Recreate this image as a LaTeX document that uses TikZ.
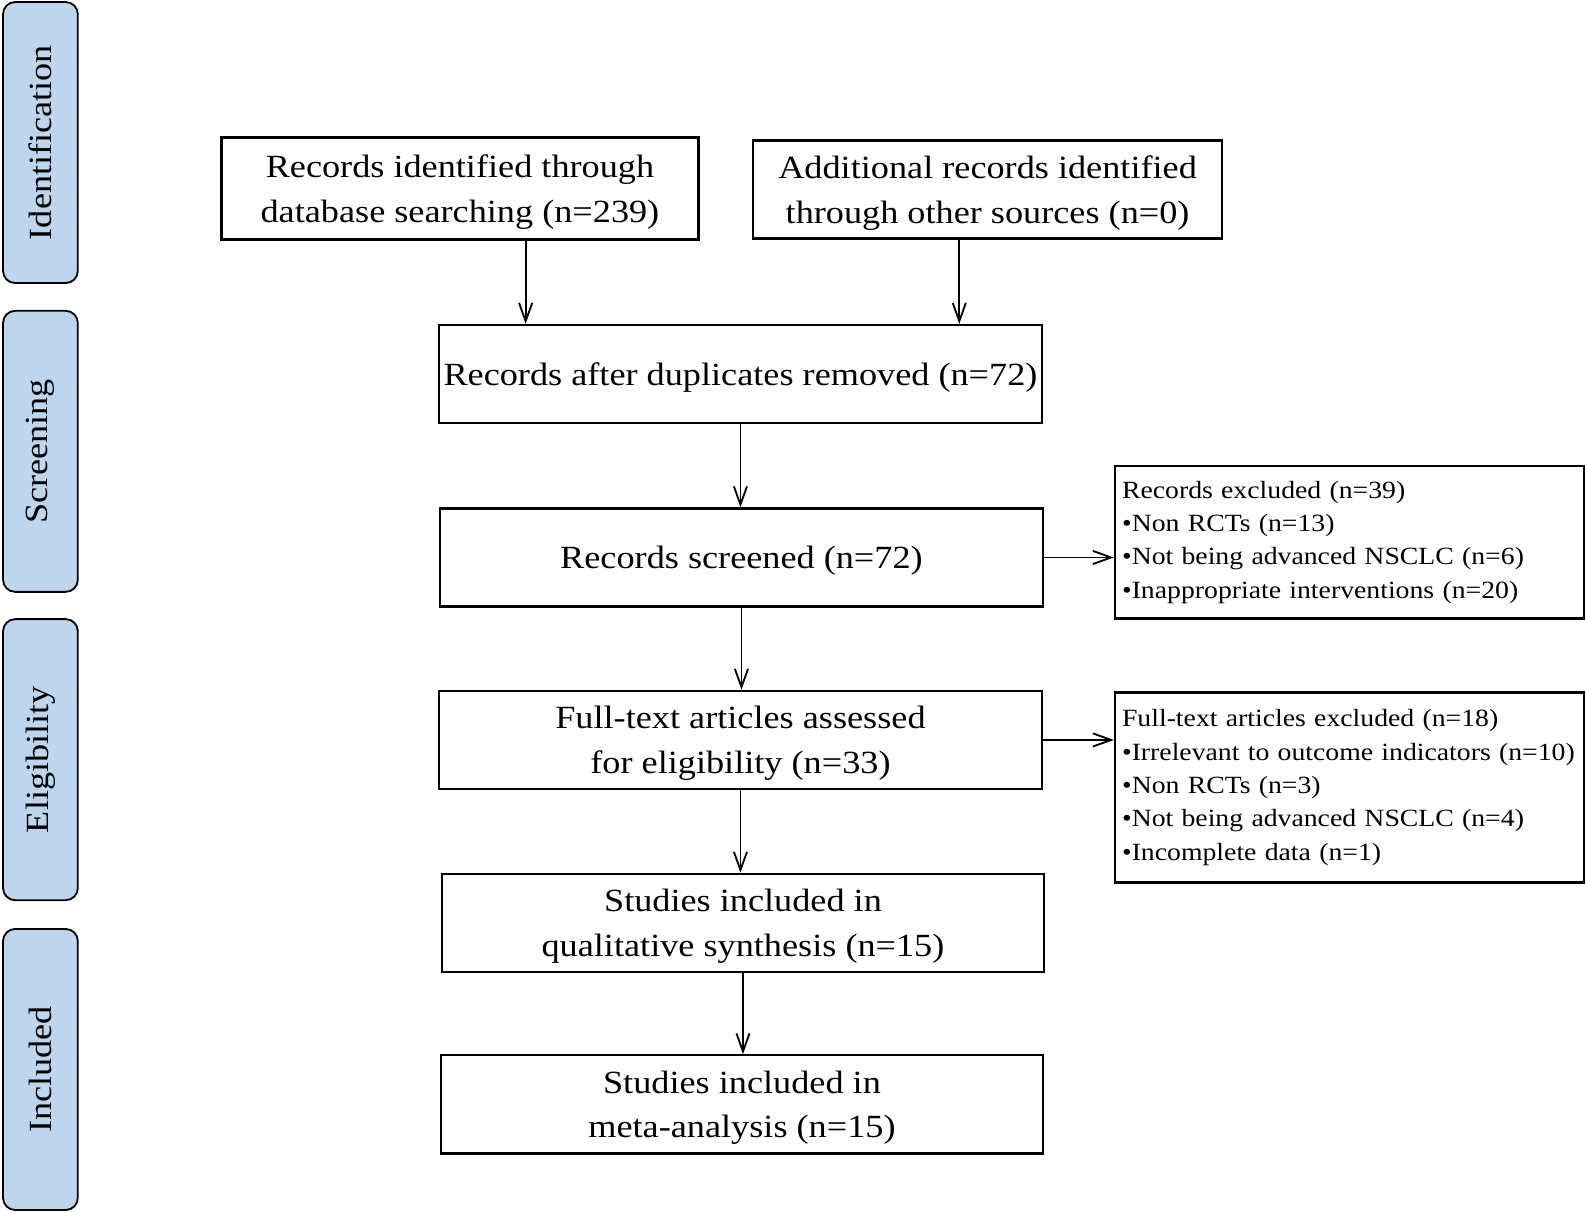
\documentclass[tikz,border=0pt]{standalone}
\usepackage{fontspec}
\setmainfont{Liberation Serif}[FakeStretch=1.12]
\usetikzlibrary{arrows.meta,shapes}
\definecolor{stageblue}{RGB}{190,214,237}
\tikzstyle{frame}=[draw,rectangle,line width=2.3pt,inner sep=0pt]
\tikzstyle{box}=[frame,align=center,text depth=-3pt,font=\fontsize{32}{44}\selectfont]
\tikzstyle{flow box} = [box, minimum width=596pt, minimum height=97pt]
\tikzstyle{excl box} = [frame, align=left, text width=450pt, inner xsep=7pt, font=\fontsize{24.5}{33}\selectfont]
\tikzstyle{stage}=[draw,line width=1.8pt,fill=stageblue,rounded corners=12pt,rotate=90,minimum width=278pt,minimum height=74pt,inner sep=0pt,font=\fontsize{32}{44}\selectfont]
\tikzstyle{edge} = [draw,line width=1.8pt,-{Straight Barb[length=18pt,width=13pt]}]

\begin{document}
\begin{tikzpicture}[x=1pt,y=-1pt]
    \useasboundingbox (0,0) rectangle (1568,1199);
    % The stages on the left
    \foreach \y/\name/\txt in {{141/identstage/Identification}, {446.5/screenstage/Screening}, {751.5/eligstage/Eligibility}, {1058/inclstage/Included}}
        \node[stage] (\name) at (40,\y) {\txt};

    % Then the boxes of the flow
    \node[box, minimum width=472pt, minimum height=101pt] (ident) at (455,186.5) {Records identified through\\database searching (n=239)};
    \node[box, minimum width=464pt, minimum height=97pt] (other) at (977,187.5) {Additional records identified\\through other sources (n=0)};
    \foreach \pos/\name/\txt in {{(732.5,370)/dup/Records after duplicates removed (n=72)}, {(733.5,551.5)/screen/Records screened (n=72)}, {(732.5,732)/full/Full-text articles assessed\\for eligibility (n=33)}, {(735,913)/qual/Studies included in\\qualitative synthesis (n=15)}, {(734,1092.5)/meta/Studies included in\\meta-analysis (n=15)}}
        \node[flow box] (\name) at \pos {\txt};

    % Boxes of the excluded records
    \node[excl box, minimum height=151pt] (exclscreen) at (1335,536.5) {Records excluded (n=39)\\•Non RCTs (n=13)\\•Not being advanced NSCLC (n=6)\\•Inappropriate interventions (n=20)};
    \node[excl box, minimum height=188pt] (exclfull) at (1335,779) {Full-text articles excluded (n=18)\\•Irrelevant to outcome indicators (n=10)\\•Non RCTs (n=3)\\•Not being advanced NSCLC (n=4)\\•Incomplete data (n=1)};

    % Connect boxes with arrows
    \path[edge] ([xshift=65pt]ident.south) -- ([xshift=65pt]ident.south |- dup.north);
    \path[edge] ([xshift=-28pt]other.south) -- ([xshift=-28pt]other.south |- dup.north);
    \foreach \source/\dest in {dup/screen, screen/full, full/qual, qual/meta}
        \path[edge] (\source.south) -- (\source.south |- \dest.north);
    \path[edge] (screen.east) -- (screen.east -| exclscreen.west);
    \path[edge] (full.east) -- (full.east -| exclfull.west);
\end{tikzpicture}
\end{document}
